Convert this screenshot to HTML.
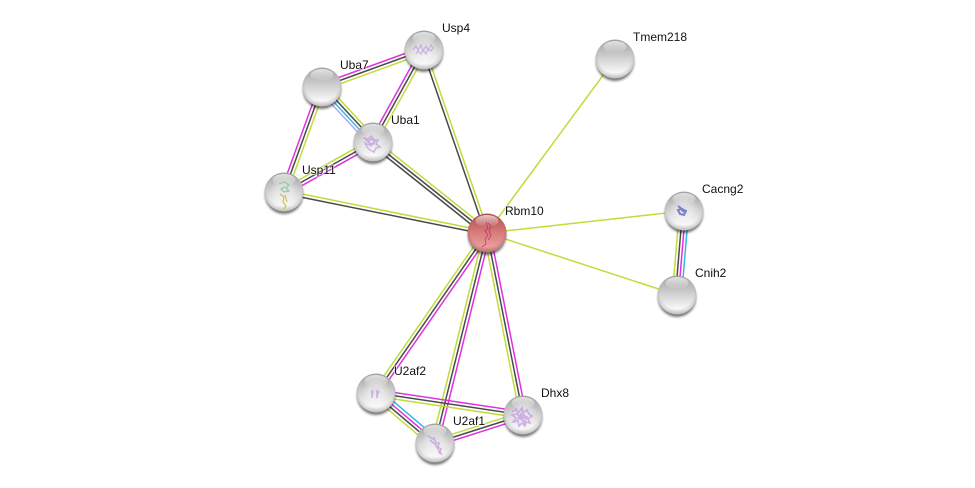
<!DOCTYPE html>
<html><head><meta charset="utf-8"><style>
html,body{margin:0;padding:0;background:#fff;width:975px;height:488px;overflow:hidden}
svg{display:block}
text{font:12px "Liberation Sans",Arial,sans-serif;fill:#111;paint-order:stroke;stroke:#fff;stroke-width:2px;stroke-opacity:.6}
.l{stroke:#c0dc3a}.d{stroke:#4a4a4a}.m{stroke:#e030e0}.c{stroke:#38b8e0}.v{stroke:#b0a8f8}
#e line{stroke-width:1.5}
.p{fill:none;stroke:#b888dc;stroke-width:1.2;opacity:.6}
</style></head><body>
<svg width="975" height="488" viewBox="0 0 975 488" xmlns="http://www.w3.org/2000/svg">
<defs>
<linearGradient id="g" x1="0" y1="0" x2="0" y2="1"><stop offset="0" stop-color="#a0a0a0"/><stop offset=".5" stop-color="#d4d4d4"/><stop offset=".85" stop-color="#f8f8f8"/><stop offset="1" stop-color="#e8e8e8"/></linearGradient>
<linearGradient id="r" x1="0" y1="0" x2="0" y2="1"><stop offset="0" stop-color="#b04c4c"/><stop offset=".5" stop-color="#d87c7c"/><stop offset=".85" stop-color="#ec9c9c"/><stop offset="1" stop-color="#d88888"/></linearGradient>
<radialGradient id="k" cx="50%" cy="42%" r="58%"><stop offset=".75" stop-color="#000" stop-opacity="0"/><stop offset="1" stop-color="#000" stop-opacity=".2"/></radialGradient>
<linearGradient id="h" x1="0" y1="0" x2="0" y2="1"><stop offset="0" stop-color="#fff" stop-opacity=".7"/><stop offset="1" stop-color="#fff" stop-opacity="0"/></linearGradient>
<radialGradient id="w" cx="50%" cy="50%" r="50%"><stop offset=".5" stop-color="#fff" stop-opacity=".42"/><stop offset="1" stop-color="#fff" stop-opacity="0"/></radialGradient>
<filter id="b" x="-30%" y="-30%" width="160%" height="160%"><feGaussianBlur stdDeviation="1.4"/></filter>
<g id="n"><circle cy="3" r="19" fill="#000" opacity=".55" filter="url(#b)"/><circle r="19.5" fill="url(#g)"/><circle r="19.5" fill="url(#k)"/><ellipse cy="-12" rx="11.5" ry="6" fill="url(#h)"/></g>
<g id="nw"><circle cy="3" r="19" fill="#000" opacity=".55" filter="url(#b)"/><circle r="19.5" fill="url(#g)"/><circle r="19.5" fill="url(#k)"/><circle r="15" fill="url(#w)"/><ellipse cy="-12" rx="11.5" ry="6" fill="url(#h)"/></g>
<g id="nr"><circle cy="3" r="19" fill="#000" opacity=".55" filter="url(#b)"/><circle r="19.5" fill="url(#r)"/><circle r="19.5" fill="url(#k)"/><ellipse cy="-12" rx="11.5" ry="6" fill="url(#h)"/></g>
</defs>
<g id="e">
<line class="l" x1="487" y1="233" x2="615" y2="59"/>
<line class="l" x1="487" y1="233" x2="684" y2="211"/>
<line class="l" x1="487" y1="233" x2="677" y2="295"/>
<line class="d" x1="485.5" y1="233.5" x2="422.5" y2="50.5"/>
<line class="l" x1="488.5" y1="232.5" x2="425.5" y2="49.5"/>
<line class="l" x1="375" y1="139.5" x2="489" y2="230.5"/>
<line class="d" x1="373" y1="142" x2="487" y2="233"/>
<line class="d" x1="371" y1="144.5" x2="485" y2="235.5"/>
<line class="l" x1="284.3" y1="190.4" x2="487.3" y2="231.4"/>
<line class="d" x1="283.7" y1="193.6" x2="486.7" y2="234.6"/>
<line class="m" x1="281" y1="190.9" x2="319" y2="85.9"/>
<line class="d" x1="284" y1="192" x2="322" y2="87"/>
<line class="l" x1="287" y1="193.1" x2="325" y2="88.1"/>
<line class="l" x1="282.4" y1="189.2" x2="371.4" y2="139.2"/>
<line class="d" x1="284" y1="192" x2="373" y2="142"/>
<line class="m" x1="285.6" y1="194.8" x2="374.6" y2="144.8"/>
<line class="m" x1="320.9" y1="84" x2="422.9" y2="47"/>
<line class="d" x1="322" y1="87" x2="424" y2="50"/>
<line class="l" x1="323.1" y1="90" x2="425.1" y2="53"/>
<line class="m" x1="370.2" y1="140.4" x2="421.2" y2="48.4"/>
<line class="d" x1="373" y1="142" x2="424" y2="50"/>
<line class="l" x1="375.8" y1="143.6" x2="426.8" y2="51.6"/>
<line class="l" x1="325.3" y1="83.9" x2="376.3" y2="138.9"/>
<line class="d" x1="323.1" y1="86" x2="374.1" y2="141"/>
<line class="c" x1="320.9" y1="88" x2="371.9" y2="143"/>
<line class="v" x1="318.7" y1="90.1" x2="369.7" y2="145.1"/>
<line class="l" x1="484.4" y1="231.2" x2="373.4" y2="391.2"/>
<line class="d" x1="487" y1="233" x2="376" y2="393"/>
<line class="m" x1="489.6" y1="234.8" x2="378.6" y2="394.8"/>
<line class="l" x1="483.9" y1="232.2" x2="431.9" y2="442.2"/>
<line class="d" x1="487" y1="233" x2="435" y2="443"/>
<line class="m" x1="490.1" y1="233.8" x2="438.1" y2="443.8"/>
<line class="l" x1="483.9" y1="233.6" x2="519.9" y2="415.6"/>
<line class="d" x1="487" y1="233" x2="523" y2="415"/>
<line class="m" x1="490.1" y1="232.4" x2="526.1" y2="414.4"/>
<line class="m" x1="376.5" y1="389.8" x2="523.5" y2="411.8"/>
<line class="d" x1="376" y1="393" x2="523" y2="415"/>
<line class="l" x1="375.5" y1="396.2" x2="522.5" y2="418.2"/>
<line class="l" x1="434" y1="440" x2="522" y2="412"/>
<line class="d" x1="435" y1="443" x2="523" y2="415"/>
<line class="m" x1="436" y1="446" x2="524" y2="418"/>
<line class="c" x1="379.1" y1="389.3" x2="438.1" y2="439.3"/>
<line class="m" x1="377" y1="391.8" x2="436" y2="441.8"/>
<line class="d" x1="375" y1="394.2" x2="434" y2="444.2"/>
<line class="l" x1="372.9" y1="396.7" x2="431.9" y2="446.7"/>
<line class="l" x1="679.4" y1="210.6" x2="672.4" y2="294.6"/>
<line class="d" x1="682.5" y1="210.9" x2="675.5" y2="294.9"/>
<line class="m" x1="685.5" y1="211.1" x2="678.5" y2="295.1"/>
<line class="c" x1="688.6" y1="211.4" x2="681.6" y2="295.4"/>
</g>
<use href="#nw" x="424" y="50"/>
<use href="#n" x="322" y="87"/>
<use href="#nw" x="373" y="142"/>
<use href="#nw" x="284" y="192"/>
<use href="#n" x="615" y="59"/>
<use href="#nw" x="684" y="211"/>
<use href="#n" x="677" y="295"/>
<use href="#nw" x="376" y="393"/>
<use href="#nw" x="435" y="443"/>
<use href="#nw" x="523" y="415"/>
<use href="#nr" x="487" y="233"/>
<path class="p" d="M413 50l3-4 2 4 3-5 2 6 3-5 2 4 3-5 2 3-2 3-3-2-2 5-3-4-2 4-3-3-2 3"/>
<path class="p" style="stroke-width:1.5" d="M363 138l5 1 3-3 3 4 4 0-2 4 4 3-4 1-2 4-4-2-3-3-2-4 4 2 4-1 2-3-4-2-3 3-3-3 4 4 5 1 1-4-4 6-3-6"/>
<path class="p" style="stroke:#70c890;opacity:.8" d="M279 184l5-2 5 3-3 3 3 3-5 1-3-3 4-2"/>
<path class="p" style="stroke:#c8b840;opacity:.85" d="M280 194l4 3-1 5 3 4-2 3m1-14l2 7"/>
<path class="p" style="stroke:#6068c0;stroke-width:2;opacity:.8" d="M678 206l4 3 4 2-2 4-4-1-2-4 3-1 3 3"/>
<path class="p" style="stroke-width:1.6" d="M372 390v8m1-7l-1 4m5-5v8m2-7l-2 4"/>
<path class="p" style="stroke-width:1.6" d="M428 436l5 3 1-1 2 5 3 0-1 4 3 2-1 3 2 3m-12-15l5 4 3 5 2 5"/>
<path class="p" style="stroke-width:1.7" d="M512 412l4-3 2 4 4-5 1 5 4-3 2 4 3 2-4 3 2 4-4-1-1 4-3-3-3 3-1-5-5 1 3-4-4-3 5-1 3 3 4-2 3 4m-10 2l4-7 3 9 3-6-8 1 6 4"/>
<path class="p" style="stroke:#b02060;stroke-width:.8;opacity:.75" d="M486 222l2 6-3 3 3 4-3 4 1 5-4 3m6-24l3 3-2 5 2 5-3 4"/>
<text x="442" y="32">Usp4</text>
<text x="633" y="41">Tmem218</text>
<text x="340" y="69">Uba7</text>
<text x="391" y="124">Uba1</text>
<text x="302" y="174">Usp11</text>
<text x="505" y="215">Rbm10</text>
<text x="702" y="193">Cacng2</text>
<text x="695" y="277">Cnih2</text>
<text x="394" y="375">U2af2</text>
<text x="541" y="397">Dhx8</text>
<text x="453" y="425">U2af1</text>
</svg>
</body></html>
